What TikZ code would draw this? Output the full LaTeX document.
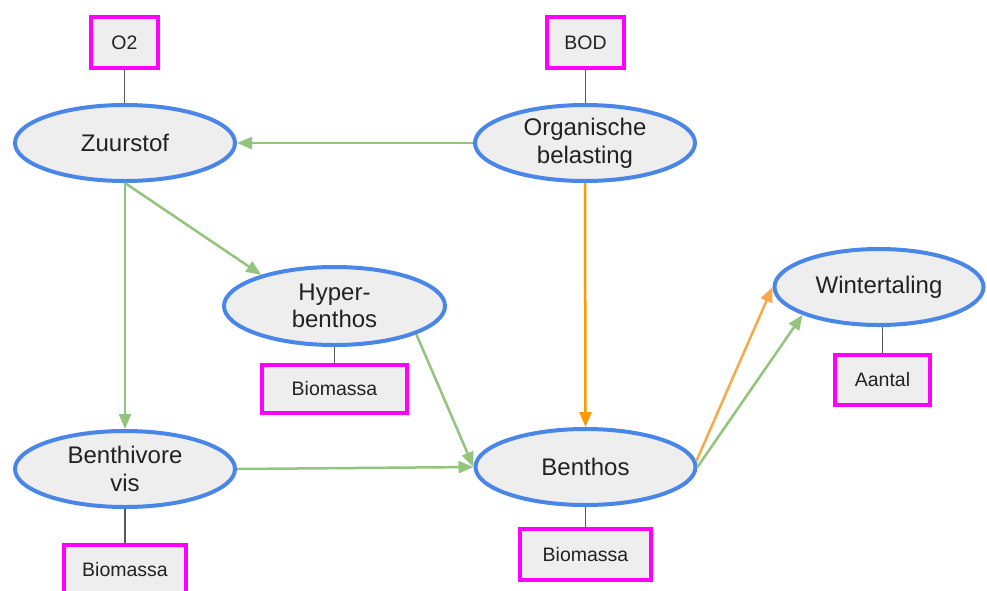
\documentclass[tikz,border=0pt]{standalone}
\usepackage{fontspec}
\setmainfont{Liberation Sans}
\usetikzlibrary{arrows.meta}
\definecolor{ellblue}{HTML}{4A86E8}
\definecolor{boxmag}{HTML}{FF00FF}
\definecolor{fillgray}{HTML}{EEEEEE}
\definecolor{arrgreen}{HTML}{93C47D}
\definecolor{arrorange}{HTML}{FF9900}
\definecolor{arrorange2}{HTML}{F9A947}
\definecolor{linkgray}{HTML}{595959}
\definecolor{txt}{HTML}{222222}
\tikzset{
  ell/.style={ellipse, draw=ellblue, fill=fillgray, line width=4pt, inner sep=0pt,
    text=txt, align=center, font=\fontsize{24}{27.6}\selectfont},
  varbox/.style={rectangle, draw=boxmag, fill=fillgray, line width=4pt, inner sep=0pt,
    text=txt, align=center, font=\fontsize{19.5}{22}\selectfont},
  link/.style={draw=linkgray, line width=1.3pt},
  garr/.style={draw=arrgreen, line width=2.5pt, -{Triangle[length=15pt,width=12pt]}},
  oarr/.style={draw=arrorange, line width=2.5pt, -{Triangle[length=15pt,width=12pt]}},
  oarrb/.style={draw=arrorange2, line width=2.5pt, -{Triangle[length=15pt,width=12pt]}}
}
\usetikzlibrary{shapes.geometric}
\begin{document}
\begin{tikzpicture}[x=1pt,y=-1pt]
\useasboundingbox (0,0) rectangle (987,590);
% ellipses
\node[ell, minimum width=220pt, minimum height=76pt] (zuur) at (125,143) {Zuurstof};
\node[ell, minimum width=220pt, minimum height=76pt] (org) at (585,143) {Organische\\belasting};
\node[ell, minimum width=221pt, minimum height=78pt] (hyper) at (334.5,306) {Hyper-\\benthos};
\node[ell, minimum width=209pt, minimum height=76pt] (wint) at (879,287) {Wintertaling};
\node[ell, minimum width=220pt, minimum height=76pt] (bvis) at (125,469) {Benthivore\\vis};
\node[ell, minimum width=220pt, minimum height=76pt] (benthos) at (585.5,467) {Benthos};
% boxes
\node[varbox, minimum width=67pt, minimum height=51pt] (o2) at (124.5,42.5) {O2};
\node[varbox, minimum width=77pt, minimum height=51pt] (bod) at (585.5,42.5) {BOD};
\node[varbox, minimum width=145pt, minimum height=48pt] (bmhyper) at (334.5,389) {Biomassa};
\node[varbox, minimum width=95pt, minimum height=50pt] (aantal) at (882.5,380) {Aantal};
\node[varbox, minimum width=122pt, minimum height=51pt] (bmvis) at (125,570) {Biomassa};
\node[varbox, minimum width=131pt, minimum height=51pt] (bmbenthos) at (585.5,554.5) {Biomassa};
% links
\draw[link] (o2.south) -- (o2.south |- zuur.north);
\draw[link] (bod.south) -- (bod.south |- org.north);
\draw[link] (hyper.south) -- (bmhyper.north);
\draw[link] (aantal.north |- wint.south) -- (aantal.north);
\draw[link] (bvis.south) -- (bmvis.north);
\draw[link] (benthos.south) -- (bmbenthos.north);
% arrows
\draw[garr] (org.west) -- (zuur.east);
\draw[garr] (zuur.south) -- (hyper.157);
\draw[garr] (zuur.south) -- (bvis.north);
\draw[garr] (hyper.-19) -- (benthos.west);
\draw[garr] (bvis.east) -- (benthos.west);
\draw[oarr] (org.south) -- (benthos.north);
\draw[oarrb] (benthos.3) -- (wint.west);
\draw[garr] (benthos.east) -- (wint.200);
\end{tikzpicture}
\end{document}
